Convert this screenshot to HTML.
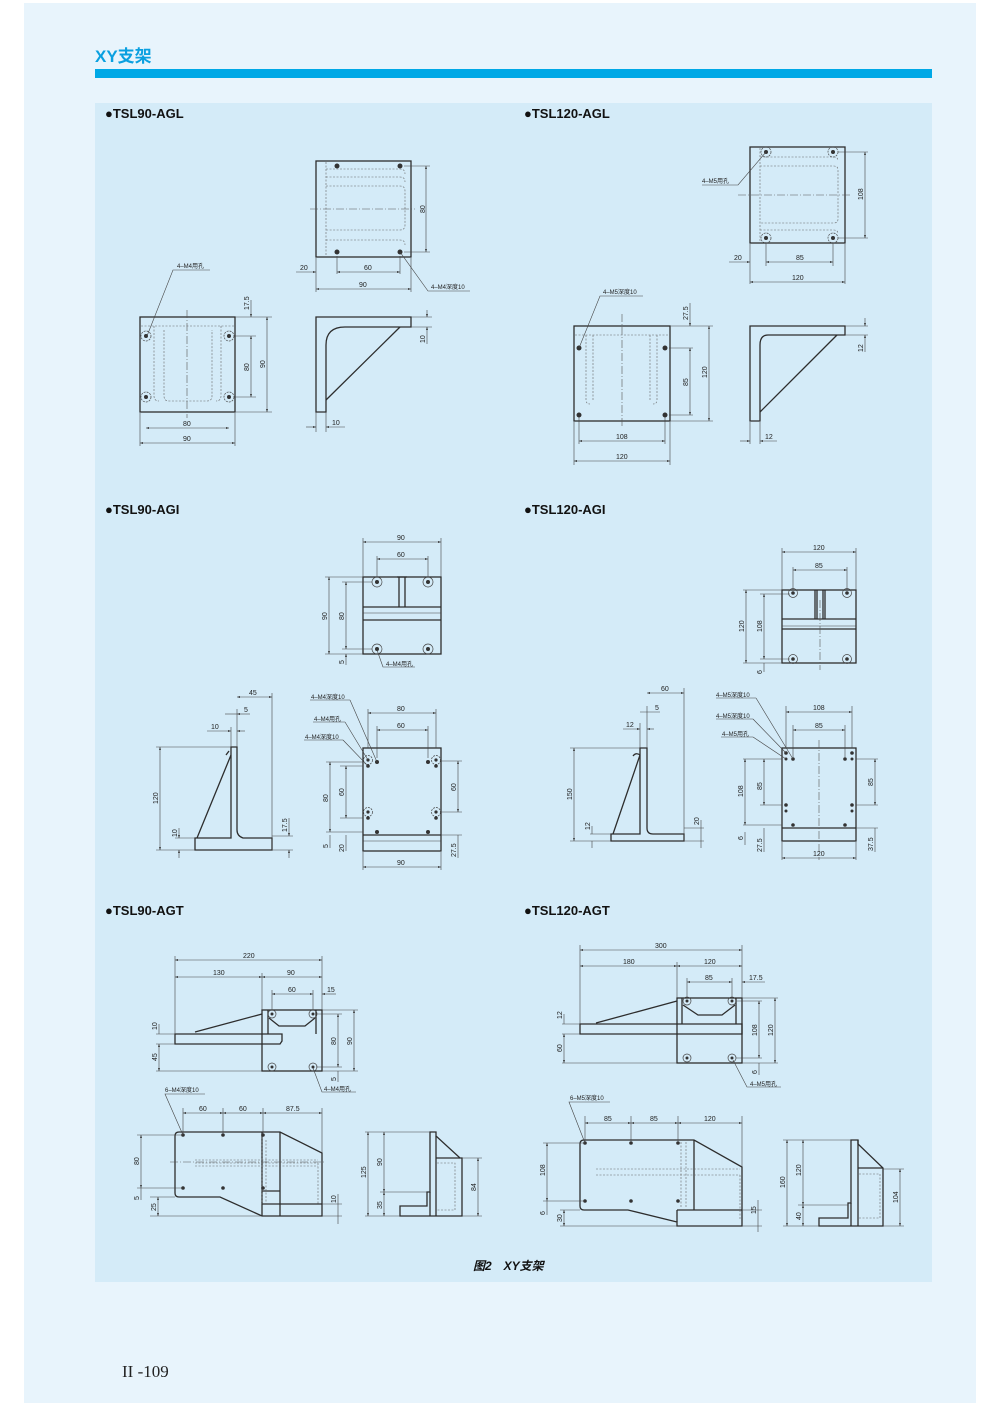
<!DOCTYPE html>
<html><head><meta charset="utf-8"><style>
html,body{margin:0;padding:0;background:#fff;}
body{width:1000px;height:1406px;position:relative;overflow:hidden;font-family:"Liberation Sans","Noto Sans CJK SC",sans-serif;}
svg{position:absolute;left:0;top:0}
.o{fill:none;stroke:#2d2d2d;stroke-width:1.3}
.d{fill:none;stroke:#444;stroke-width:0.6}
.h{fill:none;stroke:#666;stroke-width:0.6;stroke-dasharray:2,1.5}
.c{fill:none;stroke:#555;stroke-width:0.6;stroke-dasharray:8,2,1,2}
.t{font-size:7px;fill:#222;font-family:"Liberation Sans","Noto Sans CJK SC",sans-serif}
.s{font-size:6px;fill:#222;font-family:"Liberation Sans","Noto Sans CJK SC",sans-serif}
.hd{font-size:13px;font-weight:bold;fill:#111;font-family:"Liberation Sans",sans-serif}
.dot{fill:#333}
.ho{fill:none;stroke:#444;stroke-width:0.7}
</style></head><body>
<svg width="1000" height="1406" viewBox="0 0 1000 1406" xmlns="http://www.w3.org/2000/svg">
<defs>
<marker id="a" viewBox="0 0 6 6" refX="6" refY="3" markerWidth="5" markerHeight="5" orient="auto-start-reverse"><path d="M0,1 L6,3 L0,5Z" fill="#333"/></marker>
</defs>
<rect x="24" y="3" width="952" height="1400" fill="#e8f4fc"/>
<text x="95" y="62" font-size="17" font-weight="bold" fill="#0aa0e0" font-family="Liberation Sans,Noto Sans CJK SC,sans-serif">XY支架</text>
<rect x="95" y="69" width="837" height="9" fill="#00a8e6"/>
<rect x="95" y="103" width="837" height="1179" fill="#d4ebf8"/>

<text x="105" y="118" class="hd">●TSL90-AGL</text>
<text x="524" y="118" class="hd">●TSL120-AGL</text>
<text x="105" y="514" class="hd">●TSL90-AGI</text>
<text x="524" y="514" class="hd">●TSL120-AGI</text>
<text x="105" y="915" class="hd">●TSL90-AGT</text>
<text x="524" y="915" class="hd">●TSL120-AGT</text>

<!-- ===== TSL90-AGL ===== -->
<rect x="316" y="161" width="95" height="96" class="o"/>
<line x1="326" y1="162" x2="326" y2="256" class="h"/>
<path d="M326,169 H400 q5,0 5,5 M326,177 H400 q5,0 5,5 M326,186 H400 q5,0 5,5 V225 q0,5 -5,5 H326 M326,240 H400 q5,0 5,5" class="h"/>
<line x1="310" y1="209" x2="415" y2="209" class="c"/>
<circle cx="337" cy="166" r="2.5" class="dot"/><circle cx="400" cy="166" r="2.5" class="dot"/><circle cx="337" cy="252" r="2.5" class="dot"/><circle cx="400" cy="252" r="2.5" class="dot"/>
<line x1="404" y1="166" x2="430" y2="166" class="d"/><line x1="404" y1="252" x2="430" y2="252" class="d"/>
<line x1="426" y1="166" x2="426" y2="252" class="d" marker-start="url(#a)" marker-end="url(#a)"/>
<text class="t" transform="translate(425,213) rotate(-90)">80</text>
<line x1="316" y1="258" x2="316" y2="292" class="d"/><line x1="411" y1="258" x2="411" y2="292" class="d"/><line x1="337" y1="256" x2="337" y2="274" class="d"/><line x1="400" y1="256" x2="400" y2="274" class="d"/>
<line x1="296" y1="272" x2="316" y2="272" class="d" marker-end="url(#a)"/>
<line x1="337" y1="272" x2="400" y2="272" class="d" marker-start="url(#a)" marker-end="url(#a)"/>
<line x1="316" y1="289" x2="411" y2="289" class="d" marker-start="url(#a)" marker-end="url(#a)"/>
<text x="300" y="270" class="t">20</text><text x="364" y="270" class="t">60</text><text x="359" y="287" class="t">90</text>
<polyline points="400,252 428,291 470,291" class="d"/><text x="431" y="289" class="s">4–M4深度10</text>

<rect x="140" y="317" width="95" height="95" class="o"/>
<line x1="141" y1="326" x2="234" y2="326" class="h"/>
<path d="M154,326 V396 q0,5 5,5 M164,330 V396 q0,5 5,5 H207 q5,0 5,-5 V330 M221,326 V396 q0,5 -5,5" class="h"/>
<line x1="187" y1="310" x2="187" y2="418" class="c"/>
<circle cx="146" cy="336" r="5" class="ho" stroke-dasharray="2,1"/><circle cx="229" cy="336" r="5" class="ho" stroke-dasharray="2,1"/><circle cx="146" cy="397" r="5" class="ho" stroke-dasharray="2,1"/><circle cx="229" cy="397" r="5" class="ho" stroke-dasharray="2,1"/>
<circle cx="146" cy="336" r="2" class="dot"/><circle cx="229" cy="336" r="2" class="dot"/><circle cx="146" cy="397" r="2" class="dot"/><circle cx="229" cy="397" r="2" class="dot"/>
<line x1="235" y1="317" x2="272" y2="317" class="d"/><line x1="235" y1="412" x2="272" y2="412" class="d"/><line x1="234" y1="336" x2="256" y2="336" class="d"/><line x1="234" y1="397" x2="256" y2="397" class="d"/>
<line x1="251" y1="300" x2="251" y2="317" class="d" marker-end="url(#a)"/>
<line x1="251" y1="336" x2="251" y2="397" class="d" marker-start="url(#a)" marker-end="url(#a)"/>
<line x1="267" y1="317" x2="267" y2="412" class="d" marker-start="url(#a)" marker-end="url(#a)"/>
<text class="t" transform="translate(249,310) rotate(-90)">17.5</text>
<text class="t" transform="translate(249,371) rotate(-90)">80</text>
<text class="t" transform="translate(265,368) rotate(-90)">90</text>
<line x1="140" y1="413" x2="140" y2="446" class="d"/><line x1="235" y1="413" x2="235" y2="446" class="d"/>
<line x1="146" y1="428" x2="229" y2="428" class="d" marker-start="url(#a)" marker-end="url(#a)"/>
<line x1="140" y1="443" x2="235" y2="443" class="d" marker-start="url(#a)" marker-end="url(#a)"/>
<text x="183" y="426" class="t">80</text><text x="183" y="441" class="t">90</text>
<polyline points="147,336 173,270 210,270" class="d"/><text x="177" y="268" class="s">4–M4用孔</text>

<path d="M316,412 V317 H411 V327 H345 Q326,327 326,345 V412 Z" class="o"/>
<line x1="400" y1="327" x2="326" y2="400" class="o"/>
<line x1="411" y1="317" x2="432" y2="317" class="d"/><line x1="411" y1="327" x2="432" y2="327" class="d"/>
<line x1="427" y1="310" x2="427" y2="317" class="d" marker-end="url(#a)"/><line x1="427" y1="344" x2="427" y2="327" class="d" marker-end="url(#a)"/>
<text class="t" transform="translate(425,343) rotate(-90)">10</text>
<line x1="316" y1="412" x2="316" y2="432" class="d"/><line x1="326" y1="412" x2="326" y2="432" class="d"/>
<line x1="306" y1="427" x2="316" y2="427" class="d" marker-end="url(#a)"/><line x1="345" y1="427" x2="326" y2="427" class="d" marker-end="url(#a)"/>
<text x="332" y="425" class="t">10</text>

<!-- ===== TSL120-AGL ===== -->
<rect x="750" y="147" width="95" height="96" class="o"/>
<line x1="760" y1="148" x2="760" y2="242" class="h"/>
<path d="M760,157 H834 q4,0 4,4 M760,166 H834 q4,0 4,4 V219 q0,4 -4,4 H760 M760,230 H834 q4,0 4,4" class="h"/>
<line x1="738" y1="195" x2="850" y2="195" class="c"/>
<circle cx="766" cy="152" r="5" class="ho" stroke-dasharray="2,1"/><circle cx="833" cy="152" r="5" class="ho" stroke-dasharray="2,1"/><circle cx="766" cy="238" r="5" class="ho" stroke-dasharray="2,1"/><circle cx="833" cy="238" r="5" class="ho" stroke-dasharray="2,1"/>
<circle cx="766" cy="152" r="2" class="dot"/><circle cx="833" cy="152" r="2" class="dot"/><circle cx="766" cy="238" r="2" class="dot"/><circle cx="833" cy="238" r="2" class="dot"/>
<line x1="838" y1="152" x2="868" y2="152" class="d"/><line x1="838" y1="238" x2="868" y2="238" class="d"/>
<line x1="865" y1="152" x2="865" y2="238" class="d" marker-start="url(#a)" marker-end="url(#a)"/>
<text class="t" transform="translate(863,200) rotate(-90)">108</text>
<line x1="750" y1="244" x2="750" y2="284" class="d"/><line x1="845" y1="244" x2="845" y2="284" class="d"/><line x1="766" y1="243" x2="766" y2="266" class="d"/><line x1="833" y1="243" x2="833" y2="266" class="d"/>
<line x1="729" y1="262" x2="750" y2="262" class="d" marker-end="url(#a)"/>
<line x1="766" y1="262" x2="833" y2="262" class="d" marker-start="url(#a)" marker-end="url(#a)"/>
<line x1="750" y1="282" x2="845" y2="282" class="d" marker-start="url(#a)" marker-end="url(#a)"/>
<text x="734" y="260" class="t">20</text><text x="796" y="260" class="t">85</text><text x="792" y="280" class="t">120</text>
<polyline points="766,152 738,185 702,185" class="d"/><text x="702" y="183" class="s">4–M5用孔</text>

<rect x="574" y="326" width="96" height="95" class="o"/>
<line x1="575" y1="335" x2="669" y2="335" class="h"/>
<path d="M586,335 V400 q0,4 4,4 M593,335 V400 M650,335 V400 M657,335 V400 q0,4 -4,4" class="h"/>
<line x1="622" y1="314" x2="622" y2="428" class="c"/>
<circle cx="579" cy="348" r="2.5" class="dot"/><circle cx="665" cy="348" r="2.5" class="dot"/><circle cx="579" cy="415" r="2.5" class="dot"/><circle cx="665" cy="415" r="2.5" class="dot"/>
<line x1="670" y1="326" x2="713" y2="326" class="d"/><line x1="670" y1="421" x2="713" y2="421" class="d"/><line x1="669" y1="348" x2="693" y2="348" class="d"/><line x1="669" y1="415" x2="693" y2="415" class="d"/>
<line x1="690" y1="303" x2="690" y2="326" class="d" marker-end="url(#a)"/>
<line x1="690" y1="348" x2="690" y2="415" class="d" marker-start="url(#a)" marker-end="url(#a)"/>
<line x1="709" y1="326" x2="709" y2="421" class="d" marker-start="url(#a)" marker-end="url(#a)"/>
<text class="t" transform="translate(688,320) rotate(-90)">27.5</text>
<text class="t" transform="translate(688,386) rotate(-90)">85</text>
<text class="t" transform="translate(707,378) rotate(-90)">120</text>
<line x1="574" y1="422" x2="574" y2="465" class="d"/><line x1="670" y1="422" x2="670" y2="465" class="d"/><line x1="579" y1="417" x2="579" y2="444" class="d"/><line x1="665" y1="417" x2="665" y2="444" class="d"/>
<line x1="579" y1="441" x2="665" y2="441" class="d" marker-start="url(#a)" marker-end="url(#a)"/>
<line x1="574" y1="461" x2="670" y2="461" class="d" marker-start="url(#a)" marker-end="url(#a)"/>
<text x="616" y="439" class="t">108</text><text x="616" y="459" class="t">120</text>
<polyline points="579,348 600,296 643,296" class="d"/><text x="603" y="294" class="s">4–M5深度10</text>

<path d="M750,421 V326 H845 V335 H768 Q760,335 760,345 V421 Z" class="o"/>
<line x1="837" y1="335" x2="760" y2="412" class="o"/>
<line x1="845" y1="326" x2="868" y2="326" class="d"/><line x1="845" y1="335" x2="868" y2="335" class="d"/>
<line x1="865" y1="318" x2="865" y2="326" class="d" marker-end="url(#a)"/><line x1="865" y1="352" x2="865" y2="335" class="d" marker-end="url(#a)"/>
<text class="t" transform="translate(863,352) rotate(-90)">12</text>
<line x1="750" y1="422" x2="750" y2="444" class="d"/><line x1="760" y1="422" x2="760" y2="444" class="d"/>
<line x1="740" y1="441" x2="750" y2="441" class="d" marker-end="url(#a)"/><line x1="777" y1="441" x2="760" y2="441" class="d" marker-end="url(#a)"/>
<text x="765" y="439" class="t">12</text>

<!-- ===== TSL90-AGI ===== -->
<rect x="363" y="577" width="78" height="77" class="o"/>
<line x1="363" y1="607" x2="441" y2="607" class="o"/><line x1="363" y1="613" x2="441" y2="613" class="d"/><line x1="363" y1="620" x2="441" y2="620" class="o"/>
<path d="M397,577 h10 M399,577 V607 M405,577 V607" class="o"/>
<g class="ho"><circle cx="377" cy="582" r="5"/><circle cx="428" cy="582" r="5"/><circle cx="377" cy="649" r="5"/><circle cx="428" cy="649" r="5"/></g>
<circle cx="377" cy="582" r="2" class="dot"/><circle cx="428" cy="582" r="2" class="dot"/><circle cx="377" cy="649" r="2" class="dot"/><circle cx="428" cy="649" r="2" class="dot"/>
<line x1="363" y1="538" x2="363" y2="577" class="d"/><line x1="441" y1="538" x2="441" y2="577" class="d"/><line x1="377" y1="556" x2="377" y2="577" class="d"/><line x1="428" y1="556" x2="428" y2="577" class="d"/>
<line x1="363" y1="542" x2="441" y2="542" class="d" marker-start="url(#a)" marker-end="url(#a)"/>
<line x1="377" y1="559" x2="428" y2="559" class="d" marker-start="url(#a)" marker-end="url(#a)"/>
<text x="397" y="540" class="t">90</text><text x="397" y="557" class="t">60</text>
<line x1="325" y1="577" x2="363" y2="577" class="d"/><line x1="325" y1="654" x2="363" y2="654" class="d"/><line x1="342" y1="582" x2="372" y2="582" class="d"/><line x1="342" y1="649" x2="372" y2="649" class="d"/>
<line x1="329" y1="577" x2="329" y2="654" class="d" marker-start="url(#a)" marker-end="url(#a)"/>
<line x1="346" y1="582" x2="346" y2="649" class="d" marker-start="url(#a)" marker-end="url(#a)"/>
<line x1="346" y1="665" x2="346" y2="654" class="d" marker-end="url(#a)"/>
<text class="t" transform="translate(327,620) rotate(-90)">90</text>
<text class="t" transform="translate(344,620) rotate(-90)">80</text>
<text class="t" transform="translate(344,664) rotate(-90)">5</text>
<polyline points="377,650 383,667 415,667" class="d"/><text x="386" y="666" class="s">4–M4用孔</text>

<path d="M195,850 V838 H231 V747 H237 V830 q0,6 6,8 H272 V850 Z" class="o"/>
<path d="M231,755 L197,838" class="o"/><path d="M229,751 L226,755" class="o"/>
<line x1="231" y1="727" x2="231" y2="747" class="d"/><line x1="237" y1="709" x2="237" y2="747" class="d"/><line x1="272" y1="693" x2="272" y2="850" class="d"/>
<line x1="237" y1="697" x2="272" y2="697" class="d" marker-start="url(#a)" marker-end="url(#a)"/>
<line x1="225" y1="714" x2="237" y2="714" class="d"/><line x1="250" y1="714" x2="237" y2="714" class="d" marker-end="url(#a)"/>
<line x1="207" y1="731" x2="231" y2="731" class="d" marker-end="url(#a)"/><line x1="245" y1="731" x2="237" y2="731" class="d" marker-end="url(#a)"/>
<text x="249" y="695" class="t">45</text><text x="244" y="712" class="t">5</text><text x="211" y="729" class="t">10</text>
<line x1="156" y1="747" x2="231" y2="747" class="d"/><line x1="156" y1="850" x2="195" y2="850" class="d"/><line x1="175" y1="838" x2="195" y2="838" class="d"/>
<line x1="160" y1="747" x2="160" y2="850" class="d" marker-start="url(#a)" marker-end="url(#a)"/>
<line x1="179" y1="828" x2="179" y2="838" class="d" marker-end="url(#a)"/><line x1="179" y1="858" x2="179" y2="850" class="d" marker-end="url(#a)"/>
<text class="t" transform="translate(158,804) rotate(-90)">120</text>
<text class="t" transform="translate(177,837) rotate(-90)">10</text>
<line x1="272" y1="836" x2="293" y2="836" class="d"/><line x1="272" y1="850" x2="293" y2="850" class="d"/>
<line x1="289" y1="818" x2="289" y2="836" class="d" marker-end="url(#a)"/><line x1="289" y1="858" x2="289" y2="850" class="d" marker-end="url(#a)"/>
<text class="t" transform="translate(287,832) rotate(-90)">17.5</text>

<rect x="363" y="748" width="78" height="103" class="o"/>
<line x1="363" y1="835" x2="441" y2="835" class="o"/><line x1="363" y1="841" x2="441" y2="841" class="d"/>
<g class="ho" stroke-dasharray="2,1"><circle cx="368" cy="760" r="4.5"/><circle cx="436" cy="760" r="4.5"/><circle cx="368" cy="812" r="4.5"/><circle cx="436" cy="812" r="4.5"/></g>
<g class="dot"><circle cx="368" cy="760" r="1.6"/><circle cx="436" cy="760" r="1.6"/><circle cx="368" cy="812" r="1.6"/><circle cx="436" cy="812" r="1.6"/><circle cx="368" cy="766" r="1.8"/><circle cx="436" cy="766" r="1.8"/><circle cx="368" cy="818" r="1.8"/><circle cx="436" cy="818" r="1.8"/><circle cx="377" cy="762" r="2"/><circle cx="428" cy="762" r="2"/><circle cx="377" cy="832" r="2"/><circle cx="428" cy="832" r="2"/></g>
<line x1="368" y1="709" x2="368" y2="748" class="d"/><line x1="436" y1="709" x2="436" y2="748" class="d"/><line x1="377" y1="726" x2="377" y2="758" class="d"/><line x1="428" y1="726" x2="428" y2="758" class="d"/>
<line x1="368" y1="713" x2="436" y2="713" class="d" marker-start="url(#a)" marker-end="url(#a)"/>
<line x1="377" y1="730" x2="428" y2="730" class="d" marker-start="url(#a)" marker-end="url(#a)"/>
<text x="397" y="711" class="t">80</text><text x="397" y="728" class="t">60</text>
<line x1="326" y1="762" x2="363" y2="762" class="d"/><line x1="340" y1="766" x2="363" y2="766" class="d"/><line x1="340" y1="818" x2="363" y2="818" class="d"/><line x1="326" y1="832" x2="363" y2="832" class="d"/>
<line x1="330" y1="762" x2="330" y2="832" class="d" marker-start="url(#a)" marker-end="url(#a)"/>
<line x1="346" y1="766" x2="346" y2="818" class="d" marker-start="url(#a)" marker-end="url(#a)"/>
<line x1="330" y1="848" x2="330" y2="835" class="d"/><line x1="346" y1="851" x2="346" y2="835" class="d"/>
<text class="t" transform="translate(328,802) rotate(-90)">80</text>
<text class="t" transform="translate(344,796) rotate(-90)">60</text>
<text class="t" transform="translate(328,848) rotate(-90)">5</text>
<text class="t" transform="translate(344,852) rotate(-90)">20</text>
<line x1="441" y1="761" x2="462" y2="761" class="d"/><line x1="441" y1="812" x2="462" y2="812" class="d"/><line x1="441" y1="835" x2="462" y2="835" class="d"/>
<line x1="458" y1="761" x2="458" y2="812" class="d" marker-start="url(#a)" marker-end="url(#a)"/>
<line x1="458" y1="835" x2="458" y2="858" class="d"/>
<text class="t" transform="translate(456,791) rotate(-90)">60</text>
<text class="t" transform="translate(456,857) rotate(-90)">27.5</text>
<line x1="363" y1="852" x2="363" y2="870" class="d"/><line x1="441" y1="852" x2="441" y2="870" class="d"/>
<line x1="363" y1="867" x2="441" y2="867" class="d" marker-start="url(#a)" marker-end="url(#a)"/>
<text x="397" y="865" class="t">90</text>
<polyline points="350,700 310,700" class="d"/><line x1="350" y1="700" x2="377" y2="762" class="d"/><text x="311" y="699" class="s">4–M4深度10</text>
<polyline points="345,722 313,722" class="d"/><line x1="345" y1="722" x2="368" y2="760" class="d"/><text x="314" y="721" class="s">4–M4用孔</text>
<polyline points="343,740 304,740" class="d"/><line x1="343" y1="740" x2="368" y2="766" class="d"/><text x="305" y="739" class="s">4–M4深度10</text>

<!-- ===== TSL120-AGI ===== -->
<rect x="782" y="590" width="74" height="73" class="o"/>
<line x1="782" y1="619" x2="856" y2="619" class="o"/><line x1="782" y1="626" x2="856" y2="626" class="d"/><line x1="782" y1="629" x2="856" y2="629" class="o"/>
<path d="M815,590 V619 M825,590 V619 M817,590 V619 M823,590 V619" class="o"/>
<line x1="820" y1="600" x2="820" y2="670" class="c"/>
<g class="ho"><circle cx="793" cy="593" r="4.5"/><circle cx="847" cy="593" r="4.5"/><circle cx="793" cy="659" r="4.5"/><circle cx="847" cy="659" r="4.5"/></g>
<g class="dot"><circle cx="793" cy="593" r="1.8"/><circle cx="847" cy="593" r="1.8"/><circle cx="793" cy="659" r="1.8"/><circle cx="847" cy="659" r="1.8"/></g>
<line x1="782" y1="548" x2="782" y2="590" class="d"/><line x1="856" y1="548" x2="856" y2="590" class="d"/><line x1="793" y1="567" x2="793" y2="590" class="d"/><line x1="847" y1="567" x2="847" y2="590" class="d"/>
<line x1="782" y1="552" x2="856" y2="552" class="d" marker-start="url(#a)" marker-end="url(#a)"/>
<line x1="793" y1="570" x2="847" y2="570" class="d" marker-start="url(#a)" marker-end="url(#a)"/>
<text x="813" y="550" class="t">120</text><text x="815" y="568" class="t">85</text>
<line x1="743" y1="590" x2="782" y2="590" class="d"/><line x1="743" y1="663" x2="782" y2="663" class="d"/><line x1="760" y1="594" x2="790" y2="594" class="d"/><line x1="760" y1="659" x2="790" y2="659" class="d"/>
<line x1="746" y1="590" x2="746" y2="663" class="d" marker-start="url(#a)" marker-end="url(#a)"/>
<line x1="764" y1="594" x2="764" y2="659" class="d" marker-start="url(#a)" marker-end="url(#a)"/>
<line x1="764" y1="672" x2="764" y2="663" class="d"/>
<text class="t" transform="translate(744,632) rotate(-90)">120</text>
<text class="t" transform="translate(762,632) rotate(-90)">108</text>
<text class="t" transform="translate(762,674) rotate(-90)">6</text>

<path d="M611,841 V834 H640 V748 H647 V828 q0,6 6,6 H684 V841 Z" class="o"/>
<path d="M640,755 L613,834 M640,755 Q636,752 633,756" class="o"/>
<line x1="640" y1="723" x2="640" y2="748" class="d"/><line x1="647" y1="706" x2="647" y2="748" class="d"/><line x1="684" y1="688" x2="684" y2="841" class="d"/>
<line x1="647" y1="693" x2="684" y2="693" class="d" marker-start="url(#a)" marker-end="url(#a)"/>
<line x1="640" y1="712" x2="660" y2="712" class="d"/><line x1="623" y1="729" x2="640" y2="729" class="d" marker-end="url(#a)"/><line x1="654" y1="729" x2="647" y2="729" class="d" marker-end="url(#a)"/>
<text x="661" y="691" class="t">60</text><text x="655" y="710" class="t">5</text><text x="626" y="727" class="t">12</text>
<line x1="570" y1="748" x2="640" y2="748" class="d"/><line x1="570" y1="841" x2="611" y2="841" class="d"/><line x1="590" y1="834" x2="611" y2="834" class="d"/>
<line x1="574" y1="748" x2="574" y2="841" class="d" marker-start="url(#a)" marker-end="url(#a)"/>
<line x1="592" y1="826" x2="592" y2="834" class="d"/><line x1="592" y1="848" x2="592" y2="841" class="d"/>
<text class="t" transform="translate(572,800) rotate(-90)">150</text>
<text class="t" transform="translate(590,830) rotate(-90)">12</text>
<line x1="684" y1="828" x2="704" y2="828" class="d"/><line x1="684" y1="841" x2="704" y2="841" class="d"/>
<line x1="701" y1="820" x2="701" y2="848" class="d"/>
<text class="t" transform="translate(699,825) rotate(-90)">20</text>

<rect x="782" y="748" width="74" height="93" class="o"/>
<line x1="782" y1="828" x2="856" y2="828" class="o"/>
<line x1="819" y1="740" x2="819" y2="860" class="c"/>
<g class="dot"><circle cx="786" cy="753" r="1.8"/><circle cx="852" cy="753" r="1.8"/><circle cx="793" cy="759" r="1.8"/><circle cx="845" cy="759" r="1.8"/><circle cx="786" cy="759" r="1.5"/><circle cx="852" cy="759" r="1.5"/><circle cx="786" cy="805" r="1.8"/><circle cx="852" cy="805" r="1.8"/><circle cx="786" cy="811" r="1.5"/><circle cx="852" cy="811" r="1.5"/><circle cx="793" cy="825" r="1.8"/><circle cx="845" cy="825" r="1.8"/></g>
<line x1="786" y1="706" x2="786" y2="748" class="d"/><line x1="852" y1="706" x2="852" y2="748" class="d"/><line x1="793" y1="725" x2="793" y2="757" class="d"/><line x1="845" y1="725" x2="845" y2="757" class="d"/>
<line x1="786" y1="712" x2="852" y2="712" class="d" marker-start="url(#a)" marker-end="url(#a)"/>
<line x1="793" y1="730" x2="845" y2="730" class="d" marker-start="url(#a)" marker-end="url(#a)"/>
<text x="813" y="710" class="t">108</text><text x="815" y="728" class="t">85</text>
<line x1="743" y1="759" x2="782" y2="759" class="d"/><line x1="760" y1="805" x2="782" y2="805" class="d"/><line x1="743" y1="825" x2="782" y2="825" class="d"/>
<line x1="745" y1="759" x2="745" y2="825" class="d" marker-start="url(#a)" marker-end="url(#a)"/>
<line x1="764" y1="759" x2="764" y2="805" class="d" marker-start="url(#a)" marker-end="url(#a)"/>
<line x1="745" y1="832" x2="745" y2="845" class="d"/><line x1="764" y1="828" x2="764" y2="852" class="d"/>
<text class="t" transform="translate(743,797) rotate(-90)">108</text>
<text class="t" transform="translate(762,790) rotate(-90)">85</text>
<text class="t" transform="translate(743,840) rotate(-90)">6</text>
<text class="t" transform="translate(762,852) rotate(-90)">27.5</text>
<line x1="856" y1="759" x2="878" y2="759" class="d"/><line x1="856" y1="805" x2="878" y2="805" class="d"/><line x1="856" y1="828" x2="878" y2="828" class="d"/>
<line x1="875" y1="759" x2="875" y2="805" class="d" marker-start="url(#a)" marker-end="url(#a)"/><line x1="875" y1="828" x2="875" y2="852" class="d"/>
<text class="t" transform="translate(873,786) rotate(-90)">85</text>
<text class="t" transform="translate(873,851) rotate(-90)">37.5</text>
<line x1="782" y1="842" x2="782" y2="860" class="d"/><line x1="856" y1="842" x2="856" y2="860" class="d"/>
<line x1="782" y1="858" x2="856" y2="858" class="d" marker-start="url(#a)" marker-end="url(#a)"/>
<text x="813" y="856" class="t">120</text>
<polyline points="756,698 716,698" class="d"/><line x1="756" y1="698" x2="793" y2="759" class="d"/><text x="716" y="697" class="s">4–M5深度10</text>
<polyline points="753,719 716,719" class="d"/><line x1="753" y1="719" x2="786" y2="753" class="d"/><text x="716" y="718" class="s">4–M5深度10</text>
<polyline points="753,737 721,737" class="d"/><line x1="753" y1="737" x2="786" y2="759" class="d"/><text x="722" y="736" class="s">4–M5用孔</text>

<!-- ===== TSL90-AGT ===== -->
<path d="M175,1034 H282 V1041 L280,1044 H175 Z" class="o"/>
<path d="M195,1032 L262,1014" class="o"/>
<rect x="262" y="1010" width="60" height="61" class="o"/>
<line x1="268" y1="1010" x2="268" y2="1034" class="o"/><line x1="316" y1="1010" x2="316" y2="1034" class="o"/>
<path d="M269,1018 L279,1026 H305 L315,1018" class="o"/>
<g class="ho"><circle cx="272" cy="1014" r="4"/><circle cx="313" cy="1014" r="4"/><circle cx="272" cy="1067" r="4"/><circle cx="313" cy="1067" r="4"/></g>
<g class="dot"><circle cx="272" cy="1014" r="1.5"/><circle cx="313" cy="1014" r="1.5"/><circle cx="272" cy="1067" r="1.5"/><circle cx="313" cy="1067" r="1.5"/></g>
<line x1="175" y1="956" x2="175" y2="1034" class="d"/><line x1="322" y1="956" x2="322" y2="1010" class="d"/><line x1="262" y1="973" x2="262" y2="1010" class="d"/><line x1="272" y1="990" x2="272" y2="1010" class="d"/><line x1="313" y1="990" x2="313" y2="1010" class="d"/>
<line x1="175" y1="960" x2="322" y2="960" class="d" marker-start="url(#a)" marker-end="url(#a)"/>
<line x1="175" y1="977" x2="262" y2="977" class="d" marker-start="url(#a)" marker-end="url(#a)"/>
<line x1="262" y1="977" x2="322" y2="977" class="d" marker-start="url(#a)" marker-end="url(#a)"/>
<line x1="272" y1="994" x2="313" y2="994" class="d" marker-start="url(#a)" marker-end="url(#a)"/>
<line x1="322" y1="994" x2="336" y2="994" class="d" marker-start="url(#a)"/>
<text x="243" y="958" class="t">220</text><text x="213" y="975" class="t">130</text><text x="287" y="975" class="t">90</text><text x="288" y="992" class="t">60</text><text x="327" y="992" class="t">15</text>
<line x1="156" y1="1034" x2="175" y2="1034" class="d"/><line x1="156" y1="1044" x2="175" y2="1044" class="d"/><line x1="156" y1="1071" x2="262" y2="1071" class="d"/>
<line x1="159" y1="1024" x2="159" y2="1034" class="d"/><line x1="159" y1="1044" x2="159" y2="1071" class="d" marker-start="url(#a)" marker-end="url(#a)"/>
<text class="t" transform="translate(157,1030) rotate(-90)">10</text>
<text class="t" transform="translate(157,1061) rotate(-90)">45</text>
<line x1="322" y1="1010" x2="358" y2="1010" class="d"/><line x1="316" y1="1014" x2="342" y2="1014" class="d"/><line x1="316" y1="1067" x2="342" y2="1067" class="d"/><line x1="322" y1="1071" x2="358" y2="1071" class="d"/>
<line x1="338" y1="1014" x2="338" y2="1067" class="d" marker-start="url(#a)" marker-end="url(#a)"/>
<line x1="354" y1="1010" x2="354" y2="1071" class="d" marker-start="url(#a)" marker-end="url(#a)"/>
<line x1="338" y1="1071" x2="338" y2="1082" class="d"/>
<text class="t" transform="translate(336,1045) rotate(-90)">80</text>
<text class="t" transform="translate(352,1045) rotate(-90)">90</text>
<text class="t" transform="translate(336,1081) rotate(-90)">5</text>
<polyline points="313,1068 322,1092 356,1092" class="d"/><text x="324" y="1091" class="s">4–M4用孔</text>

<path d="M179,1132 H280 L322,1153 V1216 H262 L220,1197 H179 Q175,1197 175,1193 V1136 Q175,1132 179,1132 Z" class="o"/>
<line x1="262" y1="1132" x2="262" y2="1216" class="o"/><line x1="262" y1="1191" x2="280" y2="1191" class="o"/><line x1="280" y1="1132" x2="280" y2="1216" class="o"/>
<line x1="262" y1="1204" x2="322" y2="1204" class="o"/>
<path d="M195,1160 H318 M195,1163 H318 M195,1166 H318 M262,1137 V1204 M266,1140 V1204 M318,1163 V1204" class="h"/>
<line x1="170" y1="1162" x2="325" y2="1162" class="c"/>
<g class="dot"><circle cx="183" cy="1135" r="1.8"/><circle cx="223" cy="1135" r="1.8"/><circle cx="263" cy="1135" r="1.8"/><circle cx="183" cy="1188" r="1.8"/><circle cx="223" cy="1188" r="1.8"/><circle cx="263" cy="1188" r="1.8"/></g>
<line x1="183" y1="1108" x2="183" y2="1133" class="d"/><line x1="223" y1="1108" x2="223" y2="1133" class="d"/><line x1="263" y1="1108" x2="263" y2="1133" class="d"/><line x1="322" y1="1108" x2="322" y2="1153" class="d"/>
<line x1="183" y1="1113" x2="223" y2="1113" class="d" marker-start="url(#a)" marker-end="url(#a)"/>
<line x1="223" y1="1113" x2="263" y2="1113" class="d" marker-start="url(#a)" marker-end="url(#a)"/>
<line x1="263" y1="1113" x2="322" y2="1113" class="d" marker-start="url(#a)" marker-end="url(#a)"/>
<text x="199" y="1111" class="t">60</text><text x="239" y="1111" class="t">60</text><text x="286" y="1111" class="t">87.5</text>
<line x1="137" y1="1135" x2="183" y2="1135" class="d"/><line x1="137" y1="1188" x2="183" y2="1188" class="d"/><line x1="150" y1="1197" x2="175" y2="1197" class="d"/><line x1="150" y1="1216" x2="262" y2="1216" class="d"/>
<line x1="141" y1="1135" x2="141" y2="1188" class="d" marker-start="url(#a)" marker-end="url(#a)"/>
<line x1="141" y1="1188" x2="141" y2="1200" class="d"/><line x1="158" y1="1197" x2="158" y2="1216" class="d" marker-start="url(#a)" marker-end="url(#a)"/>
<text class="t" transform="translate(139,1165) rotate(-90)">80</text>
<text class="t" transform="translate(139,1200) rotate(-90)">5</text>
<text class="t" transform="translate(156,1211) rotate(-90)">25</text>
<line x1="322" y1="1204" x2="342" y2="1204" class="d"/><line x1="322" y1="1216" x2="342" y2="1216" class="d"/>
<line x1="338" y1="1194" x2="338" y2="1224" class="d"/>
<text class="t" transform="translate(336,1203) rotate(-90)">10</text>
<polyline points="183,1135 165,1094 205,1094" class="d"/><text x="165" y="1092" class="s">6–M4深度10</text>

<path d="M400,1216 V1206 H427 V1192 H430 V1132 H436 V1136 L460,1158 H462 V1216 Z" class="o"/>
<line x1="430" y1="1192" x2="430" y2="1216" class="o"/><line x1="436" y1="1136" x2="436" y2="1216" class="o"/><line x1="436" y1="1158" x2="460" y2="1158" class="o"/>
<path d="M437,1163 H455 V1210 H437" class="h"/>
<line x1="365" y1="1132" x2="430" y2="1132" class="d"/><line x1="380" y1="1192" x2="427" y2="1192" class="d"/><line x1="365" y1="1216" x2="400" y2="1216" class="d"/>
<line x1="368" y1="1132" x2="368" y2="1216" class="d" marker-start="url(#a)" marker-end="url(#a)"/>
<line x1="384" y1="1132" x2="384" y2="1192" class="d" marker-start="url(#a)" marker-end="url(#a)"/>
<line x1="384" y1="1192" x2="384" y2="1216" class="d" marker-start="url(#a)" marker-end="url(#a)"/>
<text class="t" transform="translate(366,1178) rotate(-90)">125</text>
<text class="t" transform="translate(382,1166) rotate(-90)">90</text>
<text class="t" transform="translate(382,1209) rotate(-90)">35</text>
<line x1="462" y1="1158" x2="482" y2="1158" class="d"/><line x1="462" y1="1216" x2="482" y2="1216" class="d"/>
<line x1="478" y1="1158" x2="478" y2="1216" class="d" marker-start="url(#a)" marker-end="url(#a)"/>
<text class="t" transform="translate(476,1191) rotate(-90)">84</text>

<!-- ===== TSL120-AGT ===== -->
<path d="M580,1024 H742 V1034 H695 L694,1034 H580 Z" class="o"/>
<path d="M596,1023 L677,1001" class="o"/>
<rect x="677" y="998" width="65" height="65" class="o"/>
<line x1="682" y1="998" x2="682" y2="1024" class="o"/><line x1="736" y1="998" x2="736" y2="1024" class="o"/>
<path d="M683,1005 L698,1015 H722 L735,1005" class="o"/>
<g class="ho"><circle cx="687" cy="1001" r="4"/><circle cx="732" cy="1001" r="4"/><circle cx="687" cy="1058" r="4"/><circle cx="732" cy="1058" r="4"/></g>
<g class="dot"><circle cx="687" cy="1001" r="1.5"/><circle cx="732" cy="1001" r="1.5"/><circle cx="687" cy="1058" r="1.5"/><circle cx="732" cy="1058" r="1.5"/></g>
<line x1="580" y1="945" x2="580" y2="1024" class="d"/><line x1="742" y1="945" x2="742" y2="998" class="d"/><line x1="677" y1="962" x2="677" y2="998" class="d"/><line x1="687" y1="978" x2="687" y2="998" class="d"/><line x1="732" y1="978" x2="732" y2="998" class="d"/>
<line x1="580" y1="950" x2="742" y2="950" class="d" marker-start="url(#a)" marker-end="url(#a)"/>
<line x1="580" y1="966" x2="677" y2="966" class="d" marker-start="url(#a)" marker-end="url(#a)"/>
<line x1="677" y1="966" x2="742" y2="966" class="d" marker-start="url(#a)" marker-end="url(#a)"/>
<line x1="687" y1="982" x2="732" y2="982" class="d" marker-start="url(#a)" marker-end="url(#a)"/>
<line x1="742" y1="982" x2="765" y2="982" class="d" marker-start="url(#a)"/>
<text x="655" y="948" class="t">300</text><text x="623" y="964" class="t">180</text><text x="704" y="964" class="t">120</text><text x="705" y="980" class="t">85</text><text x="749" y="980" class="t">17.5</text>
<line x1="562" y1="1024" x2="580" y2="1024" class="d"/><line x1="562" y1="1034" x2="580" y2="1034" class="d"/><line x1="562" y1="1063" x2="677" y2="1063" class="d"/>
<line x1="564" y1="1014" x2="564" y2="1024" class="d"/><line x1="564" y1="1034" x2="564" y2="1063" class="d" marker-start="url(#a)" marker-end="url(#a)"/>
<text class="t" transform="translate(562,1019) rotate(-90)">12</text>
<text class="t" transform="translate(562,1052) rotate(-90)">60</text>
<line x1="742" y1="998" x2="778" y2="998" class="d"/><line x1="736" y1="1001" x2="762" y2="1001" class="d"/><line x1="736" y1="1058" x2="762" y2="1058" class="d"/><line x1="742" y1="1063" x2="778" y2="1063" class="d"/>
<line x1="759" y1="1001" x2="759" y2="1058" class="d" marker-start="url(#a)" marker-end="url(#a)"/>
<line x1="775" y1="998" x2="775" y2="1063" class="d" marker-start="url(#a)" marker-end="url(#a)"/>
<line x1="759" y1="1063" x2="759" y2="1075" class="d"/>
<text class="t" transform="translate(757,1036) rotate(-90)">108</text>
<text class="t" transform="translate(773,1036) rotate(-90)">120</text>
<text class="t" transform="translate(757,1074) rotate(-90)">6</text>
<polyline points="733,1060 747,1087 781,1087" class="d"/><text x="750" y="1086" class="s">4–M5用孔</text>

<path d="M584,1140 H694 L742,1167 V1226 H677 V1222 L628,1210 H584 Q580,1210 580,1206 V1144 Q580,1140 584,1140 Z" class="o"/>
<line x1="694" y1="1140" x2="694" y2="1210" class="o"/><line x1="677" y1="1210" x2="742" y2="1210" class="o"/><line x1="677" y1="1210" x2="677" y2="1222" class="o"/>
<path d="M596,1169 H740 M596,1175 H740 M681,1142 V1208 M686,1142 V1208 M740,1175 V1220" class="h"/>
<g class="dot"><circle cx="585" cy="1143" r="1.8"/><circle cx="631" cy="1143" r="1.8"/><circle cx="678" cy="1143" r="1.8"/><circle cx="585" cy="1201" r="1.8"/><circle cx="631" cy="1201" r="1.8"/><circle cx="678" cy="1201" r="1.8"/></g>
<line x1="585" y1="1116" x2="585" y2="1141" class="d"/><line x1="631" y1="1116" x2="631" y2="1141" class="d"/><line x1="678" y1="1116" x2="678" y2="1141" class="d"/><line x1="742" y1="1116" x2="742" y2="1167" class="d"/>
<line x1="585" y1="1123" x2="631" y2="1123" class="d" marker-start="url(#a)" marker-end="url(#a)"/>
<line x1="631" y1="1123" x2="678" y2="1123" class="d" marker-start="url(#a)" marker-end="url(#a)"/>
<line x1="678" y1="1123" x2="742" y2="1123" class="d" marker-start="url(#a)" marker-end="url(#a)"/>
<text x="604" y="1121" class="t">85</text><text x="650" y="1121" class="t">85</text><text x="704" y="1121" class="t">120</text>
<line x1="543" y1="1143" x2="585" y2="1143" class="d"/><line x1="543" y1="1201" x2="585" y2="1201" class="d"/><line x1="560" y1="1210" x2="580" y2="1210" class="d"/><line x1="560" y1="1226" x2="677" y2="1226" class="d"/>
<line x1="547" y1="1143" x2="547" y2="1201" class="d" marker-start="url(#a)" marker-end="url(#a)"/>
<line x1="547" y1="1201" x2="547" y2="1215" class="d"/><line x1="564" y1="1210" x2="564" y2="1226" class="d" marker-start="url(#a)" marker-end="url(#a)"/>
<text class="t" transform="translate(545,1176) rotate(-90)">108</text>
<text class="t" transform="translate(545,1215) rotate(-90)">6</text>
<text class="t" transform="translate(562,1222) rotate(-90)">30</text>
<line x1="742" y1="1210" x2="762" y2="1210" class="d"/><line x1="742" y1="1226" x2="762" y2="1226" class="d"/>
<line x1="758" y1="1200" x2="758" y2="1232" class="d"/>
<text class="t" transform="translate(756,1214) rotate(-90)">15</text>
<polyline points="585,1143 569,1102 610,1102" class="d"/><text x="570" y="1100" class="s">6–M5深度10</text>

<path d="M819,1226 V1218 H848 V1203 H851 V1140 H858 V1144 L883,1168 V1226 Z" class="o"/>
<line x1="851" y1="1203" x2="851" y2="1226" class="o"/><line x1="858" y1="1140" x2="858" y2="1226" class="o"/><line x1="858" y1="1168" x2="883" y2="1168" class="o"/>
<path d="M859,1174 H880 M859,1218 H880 M880,1174 V1218" class="h"/>
<line x1="783" y1="1140" x2="851" y2="1140" class="d"/><line x1="798" y1="1205" x2="848" y2="1205" class="d"/><line x1="783" y1="1226" x2="819" y2="1226" class="d"/>
<line x1="787" y1="1140" x2="787" y2="1226" class="d" marker-start="url(#a)" marker-end="url(#a)"/>
<line x1="803" y1="1140" x2="803" y2="1205" class="d" marker-start="url(#a)" marker-end="url(#a)"/>
<line x1="803" y1="1205" x2="803" y2="1226" class="d" marker-start="url(#a)" marker-end="url(#a)"/>
<text class="t" transform="translate(785,1188) rotate(-90)">160</text>
<text class="t" transform="translate(801,1176) rotate(-90)">120</text>
<text class="t" transform="translate(801,1220) rotate(-90)">40</text>
<line x1="883" y1="1169" x2="904" y2="1169" class="d"/><line x1="883" y1="1226" x2="904" y2="1226" class="d"/>
<line x1="900" y1="1169" x2="900" y2="1226" class="d" marker-start="url(#a)" marker-end="url(#a)"/>
<text class="t" transform="translate(898,1203) rotate(-90)">104</text>

<text x="473" y="1270" font-size="12" font-weight="bold" font-style="italic" fill="#111" font-family="Liberation Sans,Noto Sans CJK SC,sans-serif">图2　XY支架</text>
<text x="122" y="1377" font-size="17" fill="#222" font-family="Liberation Serif,serif">II -109</text>
</svg>
</body></html>
